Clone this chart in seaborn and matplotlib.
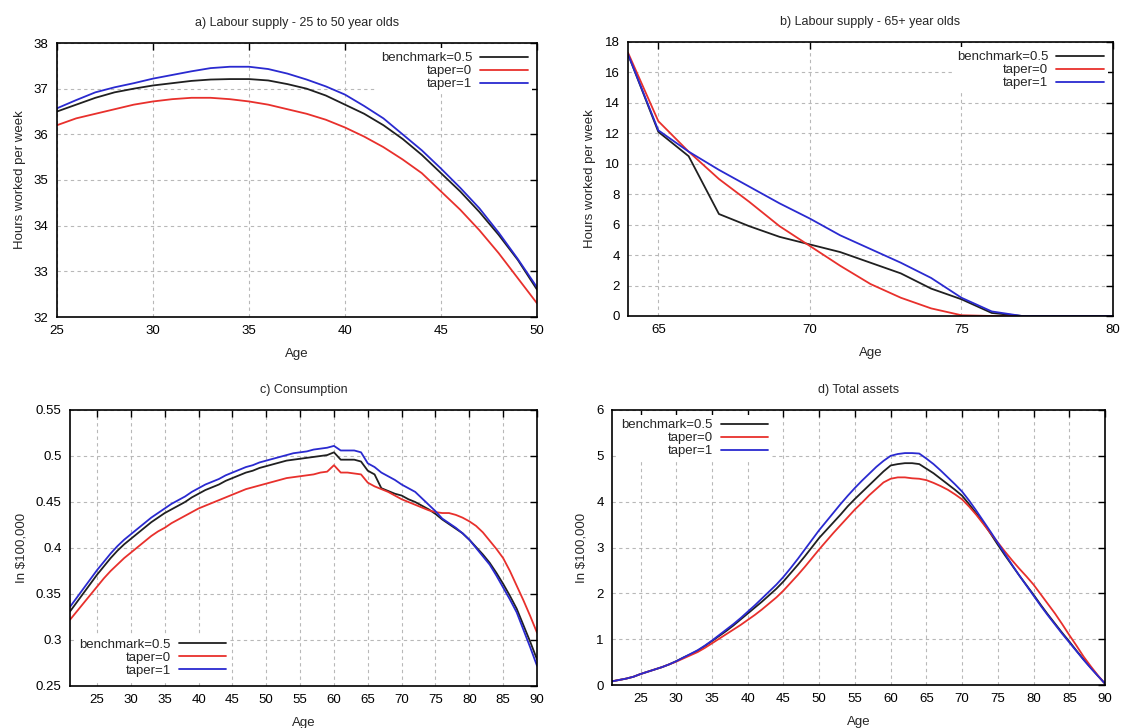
import matplotlib
matplotlib.use('Agg')
import matplotlib.pyplot as plt
import numpy as np
import pandas as pd
import seaborn as sns

# series labels and colours
labels = ['benchmark=0.5', 'taper=0', 'taper=1']
colors = ['#202020', '#e8302c', '#2a2ad0']

# a) labour supply 25-50
age_a = list(range(25, 51))
a_bench = [36.50, 36.65, 36.80, 36.92, 37.00, 37.07, 37.12, 37.17, 37.20, 37.21, 37.21, 37.18, 37.10,
           37.00, 36.85, 36.65, 36.45, 36.20, 35.90, 35.55, 35.15, 34.75, 34.30, 33.80, 33.25, 32.60]
a_tap0 = [36.20, 36.35, 36.45, 36.55, 36.65, 36.72, 36.77, 36.80, 36.80, 36.77, 36.72, 36.65, 36.55,
          36.45, 36.32, 36.15, 35.95, 35.72, 35.45, 35.15, 34.75, 34.35, 33.90, 33.40, 32.85, 32.30]
a_tap1 = [36.57, 36.75, 36.92, 37.03, 37.12, 37.22, 37.30, 37.38, 37.45, 37.48, 37.48, 37.43, 37.33,
          37.20, 37.05, 36.87, 36.62, 36.35, 36.00, 35.65, 35.25, 34.83, 34.38, 33.85, 33.27, 32.65]

# b) labour supply 65+
age_b = list(range(64, 81))
b_bench = [17.2, 12.1, 10.5, 6.7, 5.9, 5.2, 4.7, 4.2, 3.5, 2.8, 1.8, 1.1, 0.2, 0.0, 0.0, 0.0, 0.0]
b_tap0 = [17.3, 12.8, 10.8, 9.0, 7.5, 5.9, 4.6, 3.3, 2.1, 1.2, 0.5, 0.05, 0.0, 0.0, 0.0, 0.0, 0.0]
b_tap1 = [17.2, 12.2, 10.8, 9.6, 8.5, 7.4, 6.4, 5.3, 4.4, 3.5, 2.5, 1.2, 0.3, 0.0, 0.0, 0.0, 0.0]

# c) consumption, ages 21-90
age_cd = list(range(21, 91))
c_bench = [0.331, 0.341, 0.351, 0.361, 0.371, 0.380, 0.389, 0.397, 0.404, 0.410,
           0.416, 0.422, 0.428, 0.433, 0.438, 0.442, 0.446, 0.450, 0.455, 0.459,
           0.463, 0.466, 0.469, 0.473, 0.476, 0.479, 0.482, 0.484, 0.487, 0.489,
           0.491, 0.493, 0.495, 0.496, 0.497, 0.498, 0.499, 0.500, 0.501, 0.504,
           0.496, 0.496, 0.496, 0.494, 0.484, 0.480, 0.465, 0.462, 0.459, 0.457,
           0.453, 0.450, 0.446, 0.442, 0.437, 0.431, 0.426, 0.421, 0.416, 0.409,
           0.401, 0.393, 0.384, 0.373, 0.361, 0.348, 0.334, 0.316, 0.298, 0.279]
c_tap0 = [0.322, 0.331, 0.340, 0.349, 0.358, 0.367, 0.375, 0.382, 0.389, 0.395,
          0.401, 0.407, 0.413, 0.418, 0.422, 0.427, 0.431, 0.435, 0.439, 0.443,
          0.446, 0.449, 0.452, 0.455, 0.458, 0.461, 0.464, 0.466, 0.468, 0.470,
          0.472, 0.474, 0.476, 0.477, 0.478, 0.479, 0.480, 0.482, 0.483, 0.490,
          0.482, 0.482, 0.481, 0.480, 0.471, 0.467, 0.464, 0.461, 0.457, 0.453,
          0.450, 0.447, 0.444, 0.441, 0.439, 0.438, 0.438, 0.436, 0.433, 0.429,
          0.424, 0.417, 0.408, 0.399, 0.389, 0.375, 0.359, 0.343, 0.326, 0.308]
c_tap1 = [0.336, 0.346, 0.356, 0.366, 0.376, 0.385, 0.394, 0.402, 0.409, 0.415,
          0.421, 0.427, 0.433, 0.438, 0.443, 0.448, 0.452, 0.456, 0.461, 0.465,
          0.469, 0.472, 0.475, 0.479, 0.482, 0.485, 0.488, 0.490, 0.493, 0.495,
          0.497, 0.499, 0.501, 0.503, 0.504, 0.505, 0.507, 0.508, 0.509, 0.511,
          0.506, 0.506, 0.506, 0.504, 0.492, 0.488, 0.482, 0.478, 0.474, 0.469,
          0.465, 0.461, 0.454, 0.447, 0.440, 0.432, 0.427, 0.422, 0.416, 0.409,
          0.400, 0.391, 0.382, 0.370, 0.357, 0.344, 0.330, 0.311, 0.292, 0.272]

# d) total assets, ages 21-90
d_bench = [0.08, 0.11, 0.14, 0.18, 0.24, 0.29, 0.34, 0.39, 0.45, 0.52,
           0.60, 0.67, 0.75, 0.85, 0.96, 1.07, 1.18, 1.30, 1.43, 1.56,
           1.69, 1.82, 1.96, 2.10, 2.26, 2.44, 2.62, 2.81, 3.01, 3.21,
           3.38, 3.55, 3.72, 3.90, 4.06, 4.21, 4.36, 4.51, 4.66, 4.79,
           4.82, 4.84, 4.84, 4.82, 4.72, 4.62, 4.50, 4.38, 4.26, 4.13,
           3.94, 3.74, 3.53, 3.30, 3.06, 2.83, 2.61, 2.39, 2.18, 1.97,
           1.75, 1.54, 1.34, 1.14, 0.95, 0.75, 0.56, 0.38, 0.20, 0.03]
d_tap0 = [0.08, 0.11, 0.14, 0.18, 0.24, 0.29, 0.34, 0.39, 0.45, 0.51,
          0.58, 0.65, 0.72, 0.81, 0.91, 1.01, 1.11, 1.21, 1.31, 1.42,
          1.53, 1.65, 1.78, 1.91, 2.06, 2.23, 2.40, 2.58, 2.77, 2.96,
          3.14, 3.32, 3.49, 3.66, 3.83, 3.98, 4.14, 4.28, 4.42, 4.50,
          4.53, 4.53, 4.51, 4.50, 4.47, 4.41, 4.34, 4.26, 4.16, 4.05,
          3.89, 3.71, 3.51, 3.31, 3.11, 2.91, 2.72, 2.54, 2.37, 2.19,
          1.98, 1.77, 1.56, 1.33, 1.09, 0.86, 0.62, 0.41, 0.21, 0.03]
d_tap1 = [0.08, 0.11, 0.14, 0.18, 0.24, 0.29, 0.34, 0.39, 0.45, 0.52,
          0.60, 0.68, 0.76, 0.86, 0.97, 1.09, 1.21, 1.33, 1.46, 1.60,
          1.74, 1.89, 2.04, 2.19, 2.36, 2.55, 2.75, 2.96, 3.17, 3.38,
          3.57, 3.76, 3.95, 4.13, 4.30, 4.46, 4.61, 4.76, 4.89, 5.00,
          5.04, 5.06, 5.06, 5.05, 4.94, 4.82, 4.68, 4.53, 4.38, 4.22,
          4.02, 3.80, 3.57, 3.34, 3.10, 2.86, 2.62, 2.39, 2.17, 1.95,
          1.73, 1.52, 1.32, 1.12, 0.93, 0.74, 0.55, 0.37, 0.20, 0.03]

sns.set_style('white')
plt.rcParams['font.family'] = ['Liberation Sans', 'DejaVu Sans']
plt.rcParams['font.size'] = 9

fig = plt.figure(figsize=(11.21, 7.28), dpi=100)
W, H = 1121, 728

def make_ax(l, t, r, b):
    return fig.add_axes([l / W, 1 - b / H, (r - l) / W, (b - t) / H])

panels = [
    dict(box=(57, 43, 537, 317), x=age_a, ys=[a_bench, a_tap0, a_tap1],
         title='a) Labour supply - 25 to 50 year olds', ylabel='Hours worked per week',
         xlim=(25, 50), ylim=(32, 38), xt=np.arange(25, 51, 5), yt=np.arange(32, 39, 1),
         yfmt='{:g}', loc='upper right'),
    dict(box=(628, 42, 1113, 316), x=age_b, ys=[b_bench, b_tap0, b_tap1],
         title='b) Labour supply - 65+ year olds', ylabel='Hours worked per week',
         xlim=(64, 80), ylim=(0, 18), xt=np.arange(65, 81, 5), yt=np.arange(0, 19, 2),
         yfmt='{:g}', loc='upper right'),
    dict(box=(70, 410, 537, 686), x=age_cd, ys=[c_bench, c_tap0, c_tap1],
         title='c) Consumption', ylabel='In $100,000',
         xlim=(21, 90), ylim=(0.25, 0.55), xt=np.arange(25, 91, 5),
         yt=[0.25, 0.3, 0.35, 0.4, 0.45, 0.5, 0.55], yfmt='{:g}', loc='lower left'),
    dict(box=(612, 410, 1105, 685), x=age_cd, ys=[d_bench, d_tap0, d_tap1],
         title='d) Total assets', ylabel='In $100,000',
         xlim=(21, 90), ylim=(0, 6), xt=np.arange(25, 91, 5), yt=np.arange(0, 7, 1),
         yfmt='{:g}', loc='upper left'),
]

for p in panels:
    ax = make_ax(*p['box'])
    for lab, col, y in zip(labels, colors, p['ys']):
        sns.lineplot(x=p['x'], y=y, ax=ax, color=col, linewidth=1.3, label=lab)
    ax.set_xlim(*p['xlim'])
    ax.set_ylim(*p['ylim'])
    ax.set_xticks(p['xt'])
    ax.set_yticks(p['yt'])
    ax.set_yticklabels([p['yfmt'].format(v) for v in p['yt']])
    ax.grid(True, color='#b8b8b8', linestyle=(0, (3, 3)), linewidth=0.8)
    ax.tick_params(direction='in', length=5, width=1, top=True, right=True,
                   labelsize=9.5, pad=6, colors='black')
    for s in ax.spines.values():
        s.set_color('black')
        s.set_linewidth(1.2)
    ax.set_title(p['title'], fontsize=9, pad=12)
    ax.set_xlabel('Age', fontsize=9.5, labelpad=8)
    ax.set_ylabel(p['ylabel'], fontsize=9.5, labelpad=6)
    leg = ax.legend(loc=p['loc'], markerfirst=False, frameon=True, fontsize=9.5,
                    handlelength=3.6, labelspacing=0.05, handletextpad=0.6,
                    borderpad=0.3, borderaxespad=0.4)
    leg.get_frame().set_facecolor('white')
    leg.get_frame().set_linewidth(0)
    leg.get_frame().set_alpha(1)

fig.savefig('out.png', dpi=100)
